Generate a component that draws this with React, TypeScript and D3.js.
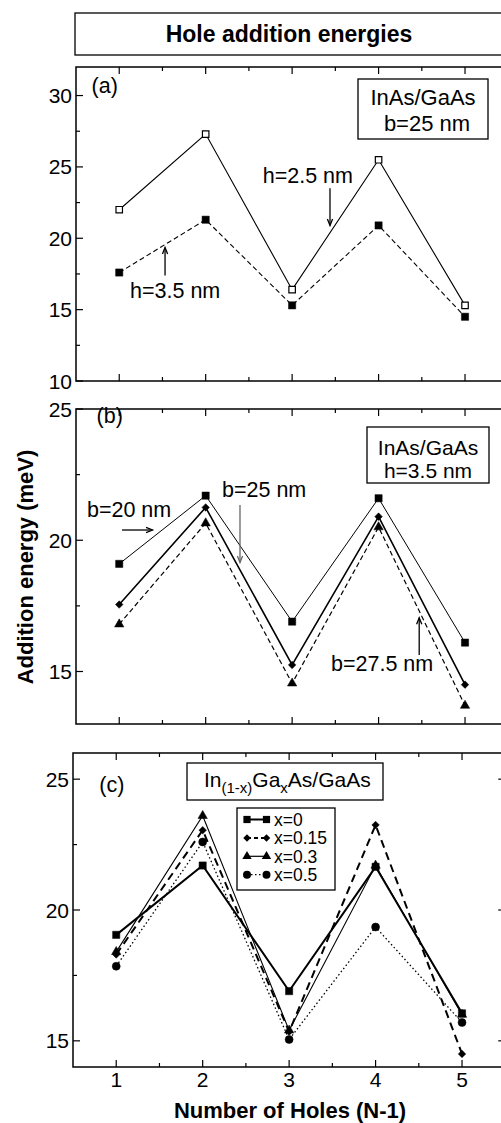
import React from 'react';
import * as d3 from 'd3';

// ---------- data ----------
const holes = [1, 2, 3, 4, 5];
const xMajor = [1, 2, 3, 4, 5];
const xMinor = [1.5, 2.5, 3.5, 4.5];

// panel (a)  InAs/GaAs, b = 25 nm
const aH25 = [22.0, 27.3, 16.4, 25.5, 15.3];
const aH35 = [17.6, 21.3, 15.3, 20.9, 14.5];
// panel (b)  InAs/GaAs, h = 3.5 nm
const bB20 = [19.1, 21.7, 16.9, 21.6, 16.1];
const bB25 = [17.55, 21.25, 15.25, 20.9, 14.5];
const bB275 = [16.8, 20.65, 14.55, 20.5, 13.7];
// panel (c)  In(1-x)GaxAs/GaAs
const cX0 = [19.05, 21.7, 16.9, 21.65, 16.05];
const cX015 = [18.3, 23.05, 15.35, 23.25, 14.5];
const cX03 = [18.4, 23.6, 15.4, 21.7, 16.0];
const cX05 = [17.85, 22.6, 15.05, 19.35, 15.7];

const aYTicks = [10, 15, 20, 25, 30];
const bYTicks = [15, 20, 25];
const cYTicks = [15, 20, 25];
const cLegendLabels = ['x=0', 'x=0.15', 'x=0.3', 'x=0.5'];

const FONT = "'Liberation Sans', Arial, Helvetica, sans-serif";
const UNIT = 86.45;

type Marker = 'sqOpen' | 'sq' | 'diamond' | 'tri' | 'circle';
interface Series { values: number[]; marker: Marker; width: number; dash?: string; }
interface Arrow { x1: number; y1: number; x2: number; y2: number; color?: string; }
interface Label { x: number; y: number; text: string; }

function markerPath(m: Marker): string {
  switch (m) {
    case 'sqOpen': return d3.symbol(d3.symbolSquare, 42)()!;
    case 'sq': return d3.symbol(d3.symbolSquare, 52)()!;
    case 'diamond': return d3.symbol(d3.symbolDiamond2, 36)()!;
    case 'tri': return d3.symbol(d3.symbolTriangle, 38)()!;
    case 'circle': return d3.symbol(d3.symbolCircle, 50)()!;
  }
}

function ArrowMark({ x1, y1, x2, y2, color = '#000' }: { x1: number; y1: number; x2: number; y2: number; color?: string }) {
  const ang = Math.atan2(y2 - y1, x2 - x1);
  const L = 7, a = 0.38;
  const p1 = [x2 - L * Math.cos(ang - a), y2 - L * Math.sin(ang - a)];
  const p2 = [x2 - L * Math.cos(ang + a), y2 - L * Math.sin(ang + a)];
  return (
    <g stroke={color} strokeWidth={1.3} fill="none">
      <line x1={x1} y1={y1} x2={x2} y2={y2} />
      <path d={`M${p1[0]},${p1[1]}L${x2},${y2}L${p2[0]},${p2[1]}`} />
    </g>
  );
}

interface PanelProps {
  left: number; top: number; bottom: number;
  yDomain: [number, number]; yTicks: number[];
  series: Series[];
  showXLabels?: boolean;
  arrows?: Arrow[];
  labels?: Label[];
  children?: (x: d3.ScaleLinear<number, number>, y: d3.ScaleLinear<number, number>) => React.ReactNode;
}

function Panel({ left, top, bottom, yDomain, yTicks, series, showXLabels, arrows = [], labels = [], children }: PanelProps) {
  const x = d3.scaleLinear().domain([0.5, 5.5]).range([left, left + 5 * UNIT]);
  const y = d3.scaleLinear().domain(yDomain).range([bottom, top]);
  const right = x(5.5);
  const line = d3.line<number>().x((_, i) => x(holes[i])).y(d => y(d));
  const yMinor: number[] = [];
  for (let v = Math.ceil(yDomain[0] / 2.5) * 2.5; v <= yDomain[1]; v += 2.5) {
    if (!yTicks.includes(v)) yMinor.push(v);
  }
  const maj = 7, min = 4;
  return (
    <g>
      {/* ticks */}
      <g stroke="#000" strokeWidth={1.2}>
        {xMajor.map(v => (
          <g key={'xm' + v}>
            <line x1={x(v)} x2={x(v)} y1={bottom} y2={bottom - maj} />
            <line x1={x(v)} x2={x(v)} y1={top} y2={top + maj} />
          </g>
        ))}
        {xMinor.map(v => (
          <g key={'xn' + v}>
            <line x1={x(v)} x2={x(v)} y1={bottom} y2={bottom - min} />
            <line x1={x(v)} x2={x(v)} y1={top} y2={top + min} />
          </g>
        ))}
        {yTicks.map(v => (
          <g key={'ym' + v}>
            <line x1={left} x2={left + maj} y1={y(v)} y2={y(v)} />
            <line x1={right} x2={right - maj} y1={y(v)} y2={y(v)} />
          </g>
        ))}
        {yMinor.map(v => (
          <g key={'yn' + v}>
            <line x1={left} x2={left + min} y1={y(v)} y2={y(v)} />
            <line x1={right} x2={right - min} y1={y(v)} y2={y(v)} />
          </g>
        ))}
      </g>
      {/* tick labels */}
      <g fontFamily={FONT} fontSize={21} fill="#000">
        {yTicks.map(v => (
          <text key={'yl' + v} x={left - 4} y={y(v)} dy="0.36em" textAnchor="end">{v}</text>
        ))}
        {showXLabels && xMajor.map(v => (
          <text key={'xl' + v} x={x(v)} y={bottom + 20} textAnchor="middle">{v}</text>
        ))}
      </g>
      {/* series */}
      {series.map((s, i) => (
        <g key={'s' + i}>
          <path d={line(s.values)!} fill="none" stroke="#000" strokeWidth={s.width} strokeDasharray={s.dash} />
        </g>
      ))}
      {series.map((s, i) => (
        <g key={'m' + i}>
          {s.values.map((v, j) => (
            <path key={j} d={markerPath(s.marker)} transform={`translate(${x(holes[j])},${y(v)})`}
              fill={s.marker === 'sqOpen' ? '#fff' : '#000'} stroke="#000" strokeWidth={s.marker === 'sqOpen' ? 1.2 : 0.5} />
          ))}
        </g>
      ))}
      {/* annotations */}
      {arrows.map((a, i) => (
        <ArrowMark key={'a' + i} x1={x(a.x1)} y1={y(a.y1)} x2={x(a.x2)} y2={y(a.y2)} color={a.color} />
      ))}
      <g fontFamily={FONT} fontSize={21.5} fill="#000">
        {labels.map((l, i) => (
          <text key={'l' + i} x={x(l.x)} y={y(l.y)}>{l.text}</text>
        ))}
      </g>
      {children && children(x, y)}
      {/* frame */}
      <rect x={left} y={top} width={right - left} height={bottom - top} fill="none" stroke="#000" strokeWidth={1.5} />
    </g>
  );
}

export default function App() {
  const W = 501, H = 1123;
  const legendSeries: { marker: Marker; dash?: string; width: number }[] = [
    { marker: 'sq', width: 2 },
    { marker: 'diamond', width: 2, dash: '4,3' },
    { marker: 'tri', width: 1.2 },
    { marker: 'circle', width: 1.3, dash: '1.5,2.5' },
  ];
  return (
    <svg width={W} height={H} style={{ position: 'absolute', left: 0, top: 0, background: '#fff' }}>
      <rect x={0} y={0} width={W} height={H} fill="#fff" />
      {/* title */}
      <rect x={75} y={13} width={460} height={42} fill="none" stroke="#000" strokeWidth={1.3} />
      <text x={289} y={42} textAnchor="middle" fontFamily={FONT} fontWeight="bold" fontSize={23}>Hole addition energies</text>

      {/* panel (a) */}
      <Panel left={76} top={67} bottom={381} yDomain={[10, 32]} yTicks={aYTicks}
        series={[
          { values: aH25, marker: 'sqOpen', width: 1.1 },
          { values: aH35, marker: 'sq', width: 1.1, dash: '5,3' },
        ]}
        arrows={[
          { x1: 3.438, y1: 23.5, x2: 3.438, y2: 20.9 },
          { x1: 1.53, y1: 17.4, x2: 1.53, y2: 19.35 },
        ]}
        labels={[
          { x: 0.68, y: 30.15, text: '(a)' },
          { x: 2.66, y: 23.9, text: 'h=2.5 nm' },
          { x: 1.125, y: 15.82, text: 'h=3.5 nm' },
        ]}
      >
        {() => (
          <g fontFamily={FONT} fontSize={22}>
            <rect x={358} y={79} width={130} height={60} fill="#fff" stroke="#000" strokeWidth={1.3} />
            <text x={423} y={105} textAnchor="middle">InAs/GaAs</text>
            <text x={427} y={131} textAnchor="middle">b=25 nm</text>
          </g>
        )}
      </Panel>

      {/* panel (b) */}
      <Panel left={76} top={409} bottom={724} yDomain={[13, 25]} yTicks={bYTicks}
        series={[
          { values: bB20, marker: 'sq', width: 1 },
          { values: bB25, marker: 'diamond', width: 1.6 },
          { values: bB275, marker: 'tri', width: 1.2, dash: '5,3' },
        ]}
        arrows={[
          { x1: 1.032, y1: 20.39, x2: 1.385, y2: 20.39 },
          { x1: 2.397, y1: 21.34, x2: 2.397, y2: 19.15, color: '#666' },
          { x1: 4.47, y1: 15.63, x2: 4.47, y2: 17.05 },
        ]}
        labels={[
          { x: 0.738, y: 24.47, text: '(b)' },
          { x: 0.627, y: 20.9, text: 'b=20 nm' },
          { x: 2.189, y: 21.66, text: 'b=25 nm' },
          { x: 3.45, y: 15.02, text: 'b=27.5 nm' },
        ]}
      >
        {() => (
          <g fontFamily={FONT} fontSize={21}>
            <rect x={367} y={427} width={122} height={56} fill="#fff" stroke="#000" strokeWidth={1.3} />
            <text x={428} y={454.5} textAnchor="middle">InAs/GaAs</text>
            <text x={428} y={478} textAnchor="middle">h=3.5 nm</text>
          </g>
        )}
      </Panel>

      {/* panel (c) */}
      <Panel left={73} top={753} bottom={1067} yDomain={[14, 26]} yTicks={cYTicks} showXLabels
        series={[
          { values: cX03, marker: 'tri', width: 1.1 },
          { values: cX05, marker: 'circle', width: 1.3, dash: '1.5,2.5' },
          { values: cX015, marker: 'diamond', width: 2, dash: '8,5' },
          { values: cX0, marker: 'sq', width: 2 },
        ]}
        labels={[
          { x: 0.804, y: 24.52, text: '(c)' },
        ]}
      >
        {() => (
          <g fontFamily={FONT}>
            <rect x={187} y={763} width={196} height={37} fill="#fff" stroke="#000" strokeWidth={1.3} />
            <text x={204} y={787} fontSize={21}>
              In<tspan fontSize={15} dy={6}>(1-x)</tspan><tspan dy={-6}>Ga</tspan><tspan fontSize={15} dy={6}>x</tspan><tspan dy={-6}>As/GaAs</tspan>
            </text>
            <rect x={237} y={808} width={98} height={82} fill="#fff" stroke="#000" strokeWidth={1.3} />
            {legendSeries.map((s, i) => {
              const yy = 819.5 + i * 18.4;
              return (
                <g key={i}>
                  <line x1={247} x2={266.5} y1={yy} y2={yy} stroke="#000" strokeWidth={s.width} strokeDasharray={s.dash} />
                  <path d={markerPath(s.marker)} transform={`translate(247,${yy})`} fill="#000" />
                  <path d={markerPath(s.marker)} transform={`translate(266.5,${yy})`} fill="#000" />
                  <text x={274} y={yy} dy="0.36em" fontSize={17.5}>{cLegendLabels[i]}</text>
                </g>
              );
            })}
          </g>
        )}
      </Panel>

      {/* axis titles */}
      <text x={290} y={1118} textAnchor="middle" fontFamily={FONT} fontWeight="bold" fontSize={22}>Number of Holes (N-1)</text>
      <text transform="translate(33,567) rotate(-90)" textAnchor="middle" fontFamily={FONT} fontWeight="bold" fontSize={22}>Addition energy (meV)</text>
    </svg>
  );
}
